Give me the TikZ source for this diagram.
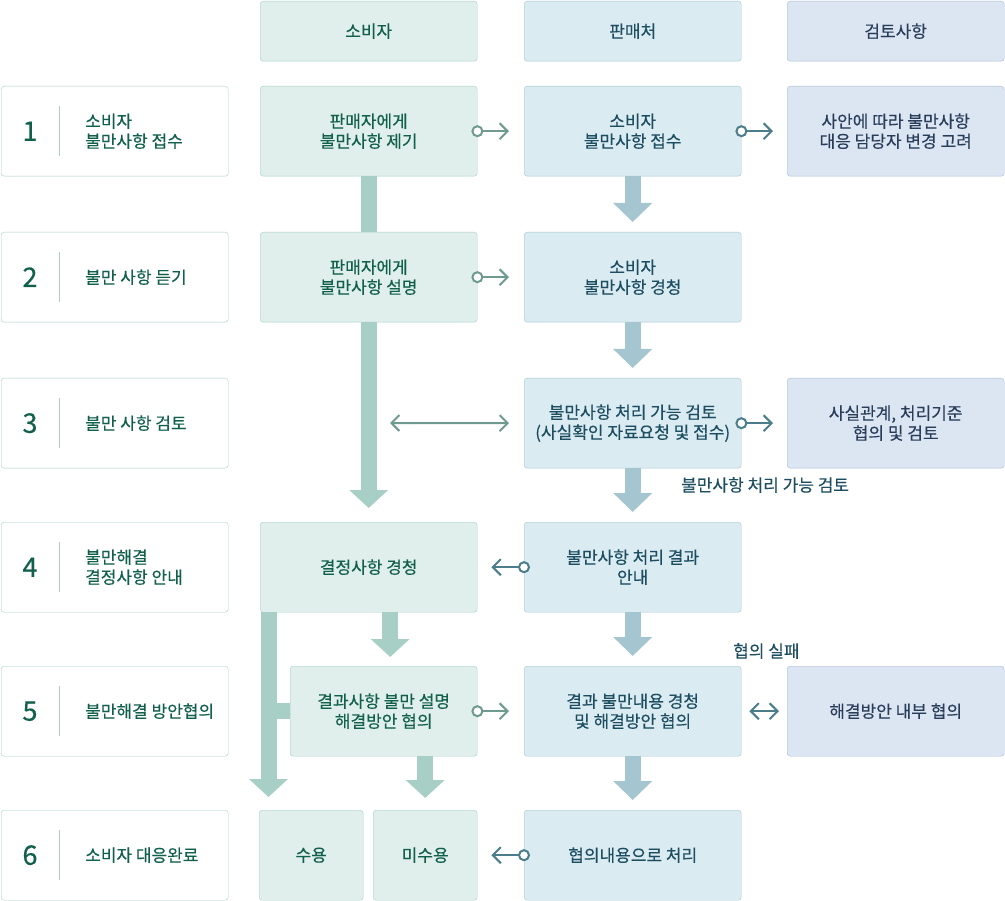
\documentclass[tikz,border=0pt]{standalone}
\usepackage{fontspec}
\setmainfont{Noto Sans CJK KR}[FakeBold=0.3]
\usetikzlibrary{positioning, arrows.meta, calc}
\definecolor{userfill}{HTML}{E0EFEB}
\definecolor{userline}{HTML}{A8CFC6}
\definecolor{usertext}{HTML}{11604B}
\definecolor{shopfill}{HTML}{DBEBF2}
\definecolor{shopline}{HTML}{A5C6D1}
\definecolor{shoptext}{HTML}{1C4D61}
\definecolor{checkfill}{HTML}{DCE5F2}
\definecolor{checkline}{HTML}{A9BCD8}
\definecolor{checktext}{HTML}{283D5A}
\definecolor{userlink}{HTML}{6E9A90}
\definecolor{shoplink}{HTML}{4B7D8B}

\begin{document}
\begin{tikzpicture}[x=1pt, y=-1pt,
        box/.style={rounded corners=3pt, anchor=north west, minimum width=217pt, minimum height=90pt,
            align=center, font=\fontsize{17}{20}\selectfont, inner sep=0pt},
        userbox/.style={box, draw=userline, fill=userfill, text=usertext},
        shopbox/.style={box, draw=shopline, fill=shopfill, text=shoptext},
        checkbox/.style={box, draw=checkline, fill=checkfill, text=checktext},
        headbox/.style={minimum height=60pt},
        stepbox/.style={box, draw=userline, fill=white, minimum width=227pt},
        stepnum/.style={font=\fontsize{27}{27}\selectfont, text=usertext},
        steptext/.style={anchor=west, align=left, inner sep=0pt, font=\fontsize{17}{20}\selectfont, text=usertext},
        userbar/.style={draw=userline, line width=16pt},
        userflow/.style={userbar, -{Triangle[length=18pt, width=38pt]}},
        shopflow/.style={draw=shopline, line width=16pt, -{Triangle[length=19pt, width=38pt]}},
        userlink/.style={draw=userlink, line width=2pt, -{Straight Barb[length=8pt, width=16pt]}},
        shoplink/.style={draw=shoplink, line width=2pt, -{Straight Barb[length=8pt, width=16pt]}},
        bothways/.style={{Straight Barb[length=8pt, width=16pt]}-{Straight Barb[length=8pt, width=16pt]}},
        userring/.style={circle, draw=userlink, line width=2pt, fill=white, minimum size=10pt, inner sep=0pt},
        shopring/.style={circle, draw=shoplink, line width=2pt, fill=white, minimum size=10pt, inner sep=0pt},
        note/.style={anchor=west, inner sep=0pt, font=\fontsize{17}{20}\selectfont, text=shoptext}
    ]
      \useasboundingbox (0,0) rectangle (1005,901);

      % Column heads
      \node[userbox, headbox] (userhead) at (260,1) {소비자};
      \node[shopbox, headbox] (shophead) at (524,1) {판매처};
      \node[checkbox, headbox] (checkhead) at (787,1) {검토사항};

      % Steps
      \node[stepbox] (p1) at (1,86) {};
      \node[stepbox] (p2) at (1,232) {};
      \node[stepbox] (p3) at (1,378) {};
      \node[stepbox] (p4) at (1,522) {};
      \node[stepbox] (p5) at (1,666) {};
      \node[stepbox] (p6) at (1,810) {};
      \foreach \p/\n in {p1/1, p2/2, p3/3, p4/4, p5/5, p6/6} {
        \node[stepnum] at ([xshift=29pt]\p.west) {\n};
        \draw[userline, line width=1pt] ([xshift=58pt, yshift=-20pt]\p.north west) -- ([xshift=58pt, yshift=20pt]\p.south west);
      }
      \node[steptext] at ([xshift=84pt]p1.west) {소비자\\불만사항 접수};
      \node[steptext] at ([xshift=84pt]p2.west) {불만 사항 듣기};
      \node[steptext] at ([xshift=84pt]p3.west) {불만 사항 검토};
      \node[steptext] at ([xshift=84pt]p4.west) {불만해결\\결정사항 안내};
      \node[steptext] at ([xshift=84pt]p5.west) {불만해결 방안협의};
      \node[steptext] at ([xshift=84pt]p6.west) {소비자 대응완료};

      % Consumer column
      \node[userbox] (c1) at (260,86) {판매자에게\\불만사항 제기};
      \node[userbox] (c2) at (260,232) {판매자에게\\불만사항 설명};
      \node[userbox] (c4) at (260,522) {결정사항 경청};
      \node[userbox, minimum width=187pt] (c5) at (290,666) {결과사항 불만 설명\\해결방안 협의};
      \node[userbox, minimum width=104pt] (a6) at (259,810) {수용};
      \node[userbox, minimum width=104pt] (b6) at (373,810) {미수용};

      % Seller column
      \node[shopbox] (s1) at (524,86) {소비자\\불만사항 접수};
      \node[shopbox] (s2) at (524,232) {소비자\\불만사항 경청};
      \node[shopbox] (s3) at (524,378) {불만사항 처리 가능 검토\\(사실확인 자료요청 및 접수)};
      \node[shopbox] (s4) at (524,522) {불만사항 처리 결과\\안내};
      \node[shopbox] (s5) at (524,666) {결과 불만내용 경청\\및 해결방안 협의};
      \node[shopbox] (s6) at (524,810) {협의내용으로 처리};

      % Review column
      \node[checkbox] (r1) at (787,86) {사안에 따라 불만사항\\대응 담당자 변경 고려};
      \node[checkbox] (r3) at (787,378) {사실관계, 처리기준\\협의 및 검토};
      \node[checkbox] (r5) at (787,666) {해결방안 내부 협의};

      % Flow labels
      \node[note] (flowcheck) at (681,485) {불만사항 처리 가능 검토};
      \node[note] (flowfail) at (733,651) {협의 실패};

      % Wide flows, consumer side
      \draw[userbar] (c1.south) -- (c2.north);
      \draw[userflow, shorten >=14pt] (c2.south) -- (c4.north);
      \coordinate (trunk) at ([xshift=8.5pt]c4.south west);
      \draw[userflow, shorten >=13pt] (trunk) -- (trunk |- a6.north);
      \draw[userbar] (trunk |- c5.west) -- (c5.west);
      \draw[userflow, shorten >=9pt] ([xshift=21.5pt]c4.south) -- ([xshift=6.5pt]c5.north);
      \draw[userflow, shorten >=12pt] (c5.south -| b6) -- (b6.north);

      % Wide flows, seller side
      \draw[shopflow, shorten >=10pt] (s1.south) -- (s2.north);
      \draw[shopflow, shorten >=10pt] (s2.south) -- (s3.north);
      \draw[shopflow, shorten >=10pt] (s3.south) -- (s4.north);
      \draw[shopflow, shorten >=10pt] (s4.south) -- (s5.north);
      \draw[shopflow, shorten >=10pt] (s5.south) -- (s6.north);

      % Thin links
      \coordinate (askfrom) at (390,423);
      \draw[userlink, shorten >=15pt] (c1.east) -- (s1.west);
      \node[userring] at (c1.east) {};
      \draw[userlink, shorten >=15pt] (c2.east) -- (s2.west);
      \node[userring] at (c2.east) {};
      \draw[userlink, bothways, shorten >=15pt] (askfrom) -- (s3.west);
      \draw[userlink, shorten >=15pt] (c5.east) -- (s5.west);
      \node[userring] at (c5.east) {};
      \draw[shoplink, shorten >=14pt] (s1.east) -- (r1.west);
      \node[shopring] at (s1.east) {};
      \draw[shoplink, shorten >=14pt] (s3.east) -- (r3.west);
      \node[shopring] at (s3.east) {};
      \draw[shoplink, shorten >=14pt] (s4.west) -- (c4.east);
      \node[shopring] at (s4.west) {};
      \draw[shoplink, bothways, shorten <=8pt, shorten >=8pt] (s5.east) -- (r5.west);
      \draw[shoplink, shorten >=14pt] (s6.west) -- (b6.east);
      \node[shopring] at (s6.west) {};
    \end{tikzpicture}
\end{document}
